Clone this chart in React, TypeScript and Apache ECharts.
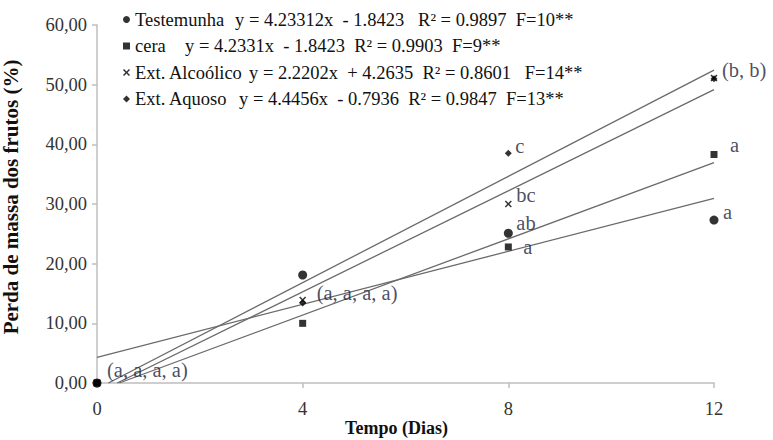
import React, { useEffect, useRef } from "react";
import * as echarts from "echarts";

// ---- data ----
const days = [0, 4, 8, 12];
const seriesNames = ["Testemunha", "cera", "Ext. Alcoólico", "Ext. Aquoso"];
const testemunha = [0, 18.1, 25.1, 27.3];
const cera = [0, 10.0, 22.8, 38.3];
const alcoolico = [0, 13.9, 30.0, 51.1];
const aquoso = [0, 13.4, 38.5, 51.0];
const equations = [
  "y = 4.23312x  - 1.8423   R² = 0.9897  F=10**",
  "y = 4.2331x  - 1.8423  R² = 0.9903  F=9**",
  "y = 2.2202x  + 4.2635  R² = 0.8601   F=14**",
  "y = 4.4456x  - 0.7936  R² = 0.9847  F=13**",
];
const testemunhaLetters = ["(a, a, a, a)", "", "ab", "a"];
const ceraLetters = ["", "", "a", "a"];
const alcoolicoLetters = ["", "(a, a, a, a)", "bc", "(b, b)"];
const aquosoLetters = ["", "", "c", ""];
const yTicks = { min: 0, max: 60, interval: 10 };
const xTicks = { min: 0, max: 12, interval: 4 };

// ---- layout / style (not data) ----
const FONT = "'Liberation Serif', 'Times New Roman', serif";
const symbols = [
  "circle",
  "rect",
  "path://M0,1.5L1.5,0L5,3.5L8.5,0L10,1.5L6.5,5L10,8.5L8.5,10L5,6.5L1.5,10L0,8.5L3.5,5Z",
  "diamond",
];
const symbolSizes = [9, 7, 7, 7];
const labelOffsets: Record<string, [number, number]> = {
  "0-0": [10, -13],
  "0-2": [8, -10],
  "0-3": [9, -8],
  "1-2": [15, 0],
  "1-3": [16, -9],
  "2-1": [14, -7],
  "2-2": [8, -9],
  "2-3": [8, -8],
  "3-2": [7, -7],
};
const nameWidths = [100, 50, 114, 104];

function regression(xs: number[], ys: number[]) {
  const n = xs.length;
  const mx = xs.reduce((a, b) => a + b, 0) / n;
  const my = ys.reduce((a, b) => a + b, 0) / n;
  let sxy = 0;
  let sxx = 0;
  for (let i = 0; i < n; i++) {
    sxy += (xs[i] - mx) * (ys[i] - my);
    sxx += (xs[i] - mx) * (xs[i] - mx);
  }
  const m = sxy / sxx;
  return { m, b: my - m * mx };
}

export default function App() {
  const ref = useRef<HTMLDivElement>(null);
  useEffect(() => {
    if (!ref.current) return;
    const chart = echarts.init(ref.current, undefined, { renderer: "svg" });
    const allValues = [testemunha, cera, alcoolico, aquoso];
    const allLetters = [testemunhaLetters, ceraLetters, alcoolicoLetters, aquosoLetters];

    const trendSeries = allValues.map((vals, si) => {
      const { m, b } = regression(days, vals);
      const x0 = b < 0 ? -b / m : xTicks.min;
      const x1 = days[days.length - 1];
      return {
        type: "line",
        name: "trend" + si,
        data: [
          [x0, m * x0 + b],
          [x1, m * x1 + b],
        ],
        showSymbol: false,
        symbol: "none",
        lineStyle: { color: "#6a6a6a", width: 1.3 },
        silent: true,
        z: 2,
        legendHoverLink: false,
      };
    });

    const scatterSeries = allValues.map((vals, si) => ({
      type: "scatter",
      name: seriesNames[si],
      symbol: symbols[si],
      symbolSize: symbolSizes[si],
      itemStyle: { color: "#000" },
      z: 5,
      data: vals.map((v, i) => {
        const text = allLetters[si][i];
        const item: any = { value: [days[i], v] };
        if (text) {
          const off = labelOffsets[si + "-" + i] || [8, -8];
          item.label = {
            show: true,
            formatter: text,
            position: "right",
            distance: 0,
            offset: [off[0] - symbolSizes[si] / 2, off[1]],
            fontFamily: FONT,
            fontSize: 20.5,
            lineHeight: 18,
            color: "#1a2238",
          };
        }
        return item;
      }),
    }));

    const rich: any = { e: { fontFamily: FONT, fontSize: 18.5, color: "#111" } };
    nameWidths.forEach((w, i) => {
      rich["n" + i] = { fontFamily: FONT, fontSize: 18.5, color: "#111", width: w };
    });

    chart.setOption({
      animation: false,
      backgroundColor: "#fff",
      grid: { left: 97, right: 59, top: 25, bottom: 57, outerBoundsMode: "none" },
      legend: {
        show: true,
        orient: "vertical",
        left: 118,
        top: 5,
        itemWidth: 7,
        itemHeight: 7,
        itemGap: 7.5,
        data: seriesNames,
        formatter: (name: string) => {
          const i = seriesNames.indexOf(name);
          return "{n" + i + "|" + name + "}{e|" + equations[i] + "}";
        },
        textStyle: { fontFamily: FONT, fontSize: 18.5, color: "#111", rich },
        selectedMode: false,
      },
      xAxis: {
        type: "value",
        min: xTicks.min,
        max: xTicks.max,
        interval: xTicks.interval,
        name: "Tempo (Dias)",
        nameLocation: "middle",
        nameGap: 36,
        nameMoveOverlap: false,
        nameTextStyle: {
          fontFamily: FONT,
          fontSize: 18,
          lineHeight: 18,
          fontWeight: "bold",
          color: "#111",
          padding: [0, 18, 0, 0],
        },
        axisLine: { show: true, lineStyle: { color: "#bfbfbf", width: 1.5 } },
        axisTick: { show: true, length: 5, lineStyle: { color: "#bfbfbf", width: 1.5 } },
        axisLabel: { fontFamily: FONT, fontSize: 18.5, color: "#333", margin: 16 },
        splitLine: { show: false },
      },
      yAxis: {
        type: "value",
        min: yTicks.min,
        max: yTicks.max,
        interval: yTicks.interval,
        name: "Perda de massa dos frutos (%)",
        nameLocation: "middle",
        nameGap: 76,
        nameMoveOverlap: false,
        nameTextStyle: {
          fontFamily: FONT,
          fontSize: 21,
          fontWeight: "bold",
          color: "#111",
          padding: [0, 0, 0, 14],
        },
        axisLine: { show: true, lineStyle: { color: "#bfbfbf", width: 1.5 } },
        axisTick: { show: true, length: 5, lineStyle: { color: "#bfbfbf", width: 1.5 } },
        axisLabel: {
          fontFamily: FONT,
          fontSize: 18.5,
          color: "#333",
          margin: 10,
          formatter: (v: number) => v.toFixed(2).replace(".", ","),
        },
        splitLine: { show: false },
      },
      series: [...trendSeries, ...scatterSeries],
    });
    return () => chart.dispose();
  }, []);
  return (
    <div
      ref={ref}
      style={{ position: "absolute", left: 0, top: 0, width: 773, height: 440 }}
    />
  );
}
